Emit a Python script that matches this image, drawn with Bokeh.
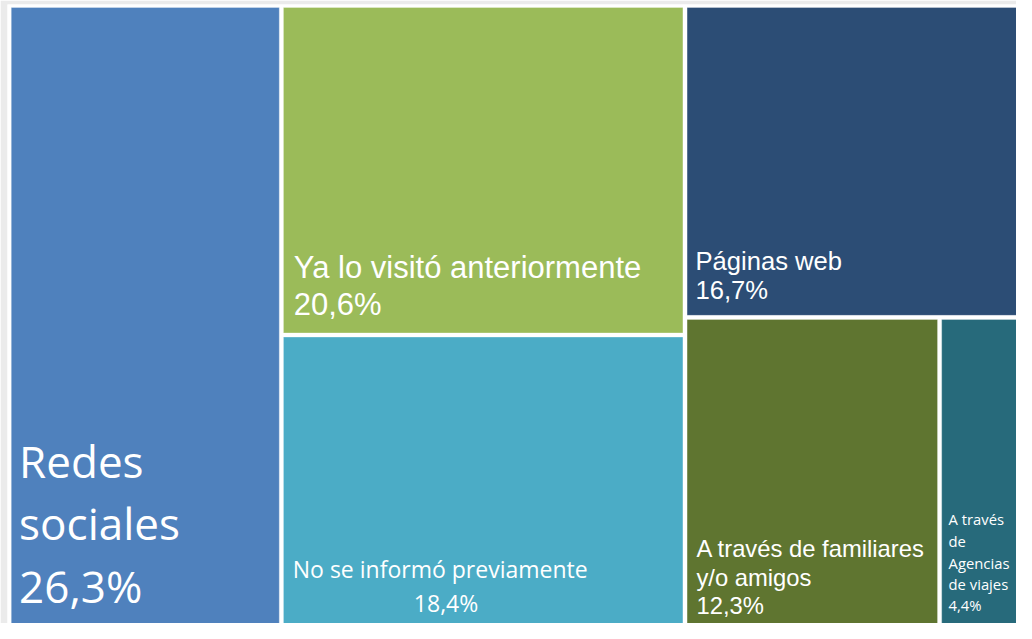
from bokeh.plotting import figure
from bokeh.models import Range1d, ColumnDataSource
from bokeh.core.properties import value
from bokeh.embed import file_html
from bokeh.resources import INLINE

# ---- data ----
categories = ["Redes sociales", "Ya lo visitó anteriormente", "No se informó previamente",
              "Páginas web", "A través de familiares y/o amigos", "A través de Agencias de viajes"]
values = [26.3, 20.6, 18.4, 16.7, 12.3, 4.4]
pct_labels = ["26,3%", "20,6%", "18,4%", "16,7%", "12,3%", "4,4%"]
label_lines = [
    ["Redes", "sociales"],
    ["Ya lo visitó anteriormente"],
    ["No se informó previamente"],
    ["Páginas web"],
    ["A través de familiares", "y/o amigos"],
    ["A través", "de", "Agencias", "de viajes"],
]
colors = ["#4F81BD", "#9BBB59", "#4BACC6", "#2C4D75", "#5F7530", "#276A7B"]

# ---- treemap layout (y grows downward) ----
X0, Y0, W, H = 8.7, 5.0, 1037.7, 640.0
GAP = 2.1
total = sum(values)
v = values
tiles = []
w1 = W * v[0] / total
tiles.append((X0, Y0, X0 + w1, Y0 + H))
xa = X0 + w1
s2 = v[1] + v[2]
w2 = W * s2 / total
ya = Y0 + H * v[1] / s2
tiles.append((xa, Y0, xa + w2, ya))
tiles.append((xa, ya, xa + w2, Y0 + H))
xb = xa + w2
s3 = v[3] + v[4] + v[5]
w3 = W * s3 / total
yb = Y0 + H * v[3] / s3
tiles.append((xb, Y0, xb + w3, yb))
sb = v[4] + v[5]
xc = xb + w3 * v[4] / sb
tiles.append((xb, yb, xc, Y0 + H))
tiles.append((xc, yb, xb + w3, Y0 + H))

src = ColumnDataSource(dict(
    left=[t[0] + GAP for t in tiles],
    right=[t[2] - GAP for t in tiles],
    top=[t[1] + GAP for t in tiles],
    bottom=[t[3] - GAP for t in tiles],
    color=colors,
    name=categories,
    val=values,
))

p = figure(width=1016, height=623, output_backend="svg", toolbar_location=None,
           x_range=Range1d(7, 1032), y_range=Range1d(639, 4),
           min_border_left=7, min_border_top=4, min_border_right=0, min_border_bottom=0,
           background_fill_color="white", border_fill_color="#EBEBEB")
p.axis.visible = False
p.grid.visible = False
p.outline_line_color = None

p.quad(left="left", right="right", top="top", bottom="bottom", source=src,
       fill_color="color", line_color="white", line_alpha=0.3, line_width=1)

# ---- labels ----
# empirical baseline correction (fraction of font size) for the rendered SVG text
SHIFT = {"Open Sans": 0.43, "Liberation Sans": 0.37}
YSCALE = 619 / 635

def add_text(xs, ys, texts, font, size, align="left"):
    d = SHIFT[font] * size / YSCALE
    s = ColumnDataSource(dict(x=xs, y=[y - d for y in ys], t=texts))
    p.text(x="x", y="y", text="t", source=s, text_color="white",
           text_font=value(font), text_font_size=f"{size}px",
           text_align=align, text_baseline="alphabetic")

L = [t[0] + GAP for t in tiles]

# Redes sociales
add_text([L[0] + 8] * 3, [492, 555, 620], label_lines[0] + [pct_labels[0]], "Open Sans", 44)
# Ya lo visitó anteriormente
add_text([L[1] + 10.5] * 2, [286, 324], label_lines[1] + [pct_labels[1]], "Liberation Sans", 31)
# No se informó previamente
add_text([L[2] + 9.5], [593], label_lines[2], "Open Sans", 23)
add_text([452.5], [628], [pct_labels[2]], "Open Sans", 23, align="center")
# Páginas web
add_text([L[3] + 8.5] * 2, [277, 307], label_lines[3] + [pct_labels[3]], "Liberation Sans", 25.6)
# Familiares
add_text([L[4] + 9.5] * 3, [571, 601, 630], label_lines[4] + [pct_labels[4]], "Liberation Sans", 23.8)
# Agencias
add_text([L[5] + 7] * 5, [538, 560.5, 583, 605, 627], label_lines[5] + [pct_labels[5]], "Open Sans", 14.8)

open("out.html", "w").write(file_html(p, INLINE))
